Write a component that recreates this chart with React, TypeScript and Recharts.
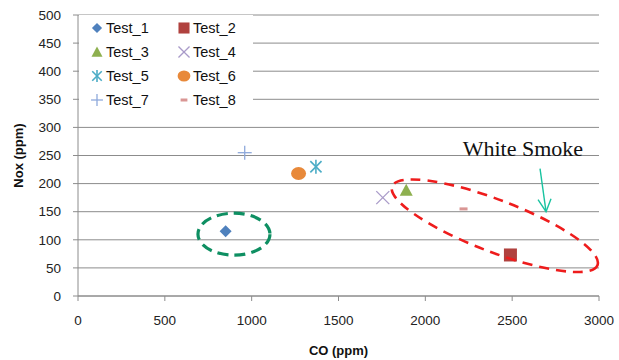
import React from 'react';
import {
  CartesianGrid,
  Legend,
  ReferenceDot,
  Scatter,
  ScatterChart,
  XAxis,
  YAxis,
} from 'recharts';

const seriesNames = ['Test_1', 'Test_2', 'Test_3', 'Test_4', 'Test_5', 'Test_6', 'Test_7', 'Test_8'];
const coValues = [850, 2490, 1890, 1755, 1370, 1270, 960, 2220];
const noxValues = [115, 73, 188, 175, 230, 218, 255, 155];
const seriesColors = ['#4F81BD', '#B0413E', '#8EB04F', '#A99BC9', '#4BACC6', '#E8893A', '#8EA9DB', '#D99694'];
const markerKinds = ['diamond', 'square', 'triangle', 'cross', 'star', 'circle', 'plus', 'dash'];

const xTicks = [0, 500, 1000, 1500, 2000, 2500, 3000];
const yTicks = [0, 50, 100, 150, 200, 250, 300, 350, 400, 450, 500];

// annotation anchors (data coords)
const cleanZone = { co: 898, nox: 110 };
const smokeZone = { co: 2400, nox: 125 };
const smokeLabel = { co: 2215, nox: 249, text: 'White Smoke' };
const arrowTip = { co: 2695, nox: 150 };

const FONT = '"Liberation Sans", Arial, sans-serif';
const AXIS_GRAY = '#8c8c8c';

function marker(kind: string, cx: number, cy: number, color: string, s = 1) {
  switch (kind) {
    case 'diamond': {
      const h = 6 * s;
      return <polygon points={`${cx},${cy - h} ${cx + h},${cy} ${cx},${cy + h} ${cx - h},${cy}`} fill={color} />;
    }
    case 'square': {
      const h = 6.5 * s;
      return <rect x={cx - h} y={cy - h} width={h * 2} height={h * 2} fill={color} />;
    }
    case 'triangle': {
      const h = 6.5 * s;
      return <polygon points={`${cx},${cy - h} ${cx + h},${cy + h * 0.85} ${cx - h},${cy + h * 0.85}`} fill={color} />;
    }
    case 'cross': {
      const h = 6.5 * s;
      return (
        <g stroke={color} strokeWidth={1.3}>
          <line x1={cx - h} y1={cy - h} x2={cx + h} y2={cy + h} />
          <line x1={cx - h} y1={cy + h} x2={cx + h} y2={cy - h} />
        </g>
      );
    }
    case 'star': {
      const h = 7 * s;
      const d = h * 0.8;
      return (
        <g stroke={color} strokeWidth={1.6}>
          <line x1={cx} y1={cy - h} x2={cx} y2={cy + h} />
          <line x1={cx - d} y1={cy - d} x2={cx + d} y2={cy + d} />
          <line x1={cx - d} y1={cy + d} x2={cx + d} y2={cy - d} />
        </g>
      );
    }
    case 'circle':
      return <ellipse cx={cx} cy={cy} rx={7.5 * s} ry={6.5 * s} fill={color} />;
    case 'plus': {
      const h = 7 * s;
      return (
        <g stroke={color} strokeWidth={1.3}>
          <line x1={cx - h} y1={cy} x2={cx + h} y2={cy} />
          <line x1={cx} y1={cy - h} x2={cx} y2={cy + h} />
        </g>
      );
    }
    default:
      return <rect x={cx - 4 * s} y={cy - 1.5} width={8 * s} height={3} fill={color} />;
  }
}

function LegendBox() {
  return (
    <div
      style={{
        background: '#fff',
        display: 'grid',
        gridTemplateColumns: '87px 80px',
        gridAutoRows: '24px',
        paddingTop: 1,
        fontFamily: FONT,
        fontSize: 14.5,
        color: '#111',
      }}
    >
      {seriesNames.map((name, i) => (
        <div key={name} style={{ display: 'flex', alignItems: 'center' }}>
          <svg width={27} height={20} style={{ flex: 'none' }}>
            {marker(markerKinds[i], 18, 10, seriesColors[i], 0.85)}
          </svg>
          <span>{name}</span>
        </div>
      ))}
    </div>
  );
}

function YTitle(props: any) {
  const vb = props.viewBox || { x: 0, y: 0, height: 0 };
  const x = vb.x + 18;
  const y = vb.y + vb.height / 2;
  return (
    <text
      x={x}
      y={y}
      transform={`rotate(-90, ${x}, ${y})`}
      textAnchor="middle"
      dominantBaseline="central"
      fontFamily={FONT}
      fontWeight={700}
      fontSize={13}
      fill="#111"
    >
      Nox (ppm)
    </text>
  );
}

function XTitle(props: any) {
  const vb = props.viewBox || { x: 0, y: 0, width: 0, height: 0 };
  return (
    <text
      x={vb.x + vb.width / 2}
      y={vb.y + 54}
      textAnchor="middle"
      dominantBaseline="central"
      fontFamily={FONT}
      fontWeight={700}
      fontSize={13}
      fill="#111"
    >
      CO (ppm)
    </text>
  );
}

export default function App() {
  const tick = { fontFamily: FONT, fontSize: 13.5, fill: '#222' };
  return (
    <div style={{ position: 'absolute', left: 0, top: 0, width: 619, height: 360, background: '#fff' }}>
      <ScatterChart width={619} height={360} margin={{ top: 15, right: 20, bottom: 14, left: 0 }}>
        <CartesianGrid horizontal vertical={false} stroke={AXIS_GRAY} />
        <XAxis
          type="number"
          dataKey="co"
          domain={[0, 3000]}
          ticks={xTicks}
          height={50}
          tick={tick}
          tickSize={5}
          tickMargin={14}
          stroke={AXIS_GRAY}
          label={<XTitle />}
        />
        <YAxis
          type="number"
          dataKey="nox"
          domain={[0, 500]}
          ticks={yTicks}
          width={78}
          tick={tick}
          tickSize={5}
          tickMargin={12}
          stroke={AXIS_GRAY}
          label={<YTitle />}
        />
        <Legend
          layout="horizontal"
          align="center"
          verticalAlign="middle"
          wrapperStyle={{ position: 'absolute', top: 15, left: 79, width: 174, height: 97 }}
          content={<LegendBox />}
        />
        {seriesNames.map((name, i) => (
          <Scatter
            key={name}
            name={name}
            data={[{ co: coValues[i], nox: noxValues[i] }]}
            fill={seriesColors[i]}
            isAnimationActive={false}
            shape={(p: any) => marker(markerKinds[i], p.cx, p.cy, seriesColors[i])}
          />
        ))}
        <ReferenceDot
          x={cleanZone.co}
          y={cleanZone.nox}
          shape={(p: any) => (
            <ellipse cx={p.cx} cy={p.cy} rx={36} ry={21} fill="none" stroke="#0E8F62" strokeWidth={3.2} strokeDasharray="11 6" />
          )}
        />
        <ReferenceDot
          x={smokeZone.co}
          y={smokeZone.nox}
          shape={(p: any) => (
            <ellipse
              cx={p.cx}
              cy={p.cy}
              rx={110}
              ry={26}
              transform={`rotate(21, ${p.cx}, ${p.cy})`}
              fill="none"
              stroke="#EE1C1C"
              strokeWidth={2.6}
              strokeDasharray="10 7"
            />
          )}
        />
        <ReferenceDot
          x={smokeLabel.co}
          y={smokeLabel.nox}
          shape={(p: any) => (
            <text x={p.cx} y={p.cy} fontFamily='"Liberation Serif", "Times New Roman", serif' fontSize={22} fill="#111">
              {smokeLabel.text}
            </text>
          )}
        />
        <ReferenceDot
          x={arrowTip.co}
          y={arrowTip.nox}
          shape={(p: any) => (
            <g stroke="#19C3A0" strokeWidth={1.4} fill="none">
              <line x1={p.cx - 6} y1={p.cy - 43} x2={p.cx} y2={p.cy} />
              <polyline points={`${p.cx - 8},${p.cy - 12} ${p.cx},${p.cy} ${p.cx + 5},${p.cy - 13}`} />
            </g>
          )}
        />
      </ScatterChart>
    </div>
  );
}
